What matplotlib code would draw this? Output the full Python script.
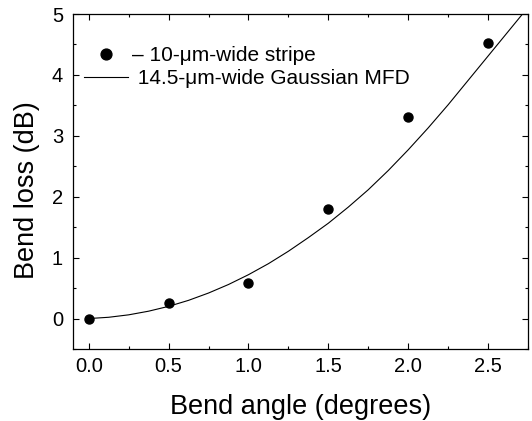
import matplotlib
matplotlib.use("Agg")
import matplotlib.pyplot as plt

plt.rcParams['font.family'] = ['Liberation Sans', 'DejaVu Sans']

# Measured data points
angle = [0.0, 0.5, 1.0, 1.5, 2.0, 2.5]
loss = [0.0, 0.26, 0.58, 1.80, 3.31, 4.52]

# Gaussian MFD model curve
curve_x = [0.0, 0.125, 0.25, 0.375, 0.5, 0.625, 0.75, 0.875, 1.0, 1.125, 1.25,
           1.375, 1.5, 1.625, 1.75, 1.875, 2.0, 2.125, 2.25, 2.375, 2.5, 2.625, 2.75]
curve_y = [0.0, 0.021, 0.061, 0.121, 0.20, 0.299, 0.419, 0.559, 0.72, 0.901, 1.105,
           1.329, 1.565, 1.83, 2.115, 2.43, 2.77, 3.13, 3.51, 3.91, 4.31, 4.71, 5.11]

xticks = [0.0, 0.5, 1.0, 1.5, 2.0, 2.5]
xticklabels = ["0.0", "0.5", "1.0", "1.5", "2.0", "2.5"]
yticks = [0, 1, 2, 3, 4, 5]
yticklabels = ["0", "1", "2", "3", "4", "5"]

fig = plt.figure(figsize=(5.32, 4.21), dpi=100)
ax = fig.add_axes([0.1367, 0.171, 0.9925 - 0.1367, 0.9667 - 0.171])

ax.plot(angle, loss, 'o', color='black', markersize=6.5,
        label='\u2013 10-\u03bcm-wide stripe', zorder=3)
ax.plot(curve_x, curve_y, '-', color='black', linewidth=0.8,
        label=' 14.5-\u03bcm-wide Gaussian MFD')

ax.set_xlim(-0.1, 2.74)
ax.set_ylim(-0.5, 5)
ax.set_xticks(xticks)
ax.set_xticklabels(xticklabels)
ax.set_yticks(yticks)
ax.set_yticklabels(yticklabels)
ax.set_xticks([0.25, 0.75, 1.25, 1.75, 2.25, 2.75], minor=True)
ax.set_yticks([-0.5, 0.5, 1.5, 2.5, 3.5, 4.5], minor=True)

ax.tick_params(which='both', direction='in', top=True, right=True, colors='black')
ax.tick_params(which='major', length=4.3, width=0.8, labelsize=14.5)
ax.tick_params(which='minor', length=2.4, width=0.8)
ax.tick_params(axis='x', which='major', pad=6)
ax.tick_params(axis='y', which='major', pad=7)
for s in ax.spines.values():
    s.set_linewidth(0.9)

ax.set_xlabel('Bend angle (degrees)', fontsize=19.5, labelpad=12.5)
ax.set_ylabel('Bend loss (dB)', fontsize=19.5)
ax.yaxis.set_label_coords(-0.072, 0.475)

leg = ax.legend(loc='upper left', bbox_to_anchor=(0.025, 0.905), frameon=False,
                fontsize=15, handlelength=2.1, handletextpad=0.2,
                labelspacing=0.2, borderpad=0, borderaxespad=0, markerscale=1.2)

fig.savefig('out.png', dpi=100)
